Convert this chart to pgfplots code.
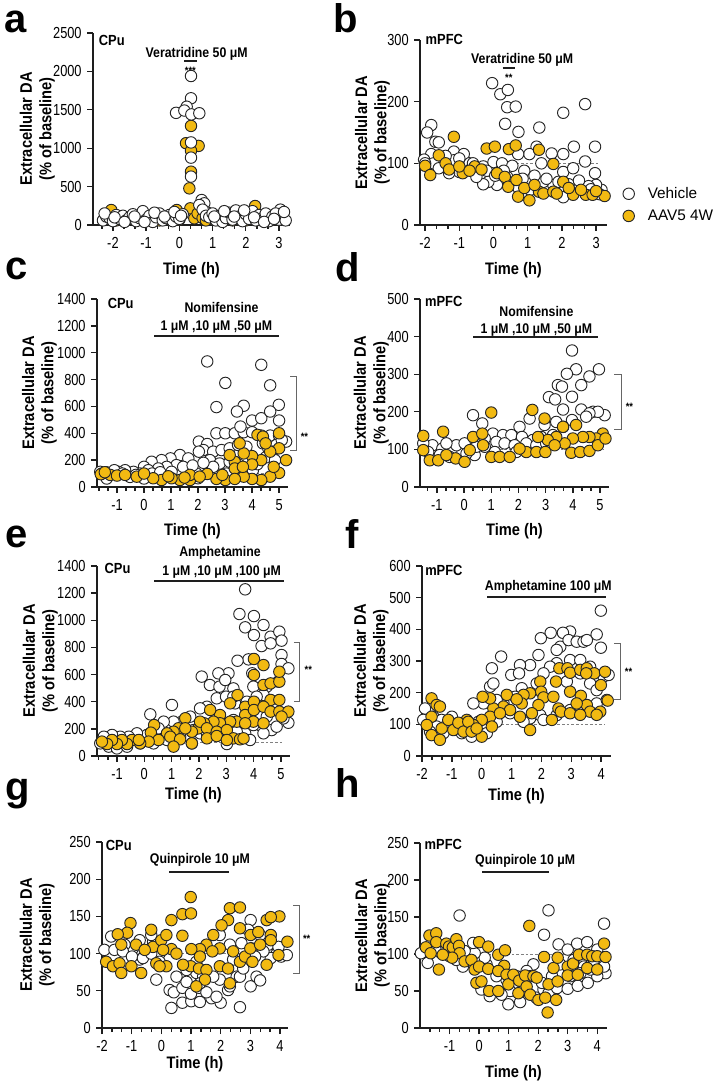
\documentclass[border=0pt]{standalone}
\usepackage{pgfplots}
\pgfplotsset{compat=1.18}
\usepackage{fontspec}
\setmainfont{Liberation Sans}[FakeStretch=0.88]
\newfontfamily\plainsans{Liberation Sans}
\newfontfamily\tickfam{Liberation Sans}[FakeStretch=0.8]
\definecolor{aavgold}{RGB}{242,186,18}
\definecolor{axcol}{RGB}{30,30,30}
\newcommand{\tickfont}{\tickfam\fontsize{12}{13}\selectfont}
\newcommand{\labfont}{\bfseries\fontsize{12.5}{14.5}\selectfont}
\newcommand{\annfont}{\bfseries\fontsize{10.5}{12}\selectfont}
\newcommand{\regfont}{\bfseries\fontsize{11}{12}\selectfont}
\newcommand{\starfont}{\bfseries\fontsize{8}{9}\selectfont}
\newcommand{\letfont}{\plainsans\bfseries\fontsize{30}{30}\selectfont}
\tikzset{
  drug/.style={line width=1.3pt, axcol},
  brack/.style={line width=0.6pt, gray!80!black},
}
\pgfplotsset{
  dapanel/.style={
    scale only axis, anchor=south west,
    axis x line*=bottom, axis y line*=left,
    axis line style={line width=1.1pt, axcol, -},
    every tick/.style={line width=1.0pt, axcol},
    tick align=outside,
    major tick length=4.5pt, minor tick length=3pt,
    ymin=0, clip=false,
    tick label style={font=\tickfont},
    /pgf/number format/assume math mode=true,
    /pgf/number format/1000 sep={},
    xticklabel style={yshift=-1.5pt},
    yticklabel style={xshift=-0.5pt},
  },
  veh/.style={only marks, mark=*, mark size=4.3pt, mark options={fill=white, draw=black!85, line width=0.7pt}},
  aav/.style={only marks, mark=*, mark size=4.3pt, mark options={fill=aavgold, draw=black!85, line width=0.7pt}},
  base/.style={gray, line width=0.6pt, dash pattern=on 2pt off 1.5pt, forget plot},
}
\newcommand{\axlabels}[2]{%
  \node[rotate=90, anchor=south, font=\labfont, align=center, inner sep=0pt] at (axis description cs:#1,0.5) {Extracellular DA\\(\% of baseline)};
  \node[anchor=north, font=\labfont, inner sep=0pt] at (axis description cs:0.5,#2) {Time (h)};
}
\begin{document}
\begin{tikzpicture}
\useasboundingbox (0,0) rectangle (535.5pt,814.5pt);

% ---------------- a ----------------
\begin{axis}[dapanel, at={(69.75pt,645.75pt)}, width=147.75pt, height=144pt,
  xmin=-2.6, xmax=3.33, ymax=2500, xtick={-2,...,3}, ytick={0,500,...,2500},
  minor xtick={-2.333,-1.667,-1.333,-0.667,-0.333,0.333,0.667,1.333,1.667,2.333,2.667}]
\addplot[aav] coordinates {(-2.05,195)(-2.2,80)(-1.9,60)(-1.7,100)(-1.5,90)(-1.2,70)(-0.9,110)(-0.6,60)(-0.3,90)(0.0,70)(-0.08,195)
 (0.35,1290)(0.2,1065)(0.58,1030)(0.35,968)(0.35,694)(0.3,477)(0.33,217)(0.45,87)
 (0.55,150)(0.7,90)(1.0,80)(1.3,130)(1.6,60)(1.9,100)(2.28,247)(2.5,90)(2.8,70)(3.1,100)(2.0,60)(1.1,110)(0.8,60)};
\addplot[veh] coordinates {(-2.3,60)(-2.2,110)(-2.1,90)(-2.0,50)(-1.9,130)(-1.8,80)(-1.7,120)(-1.6,60)(-1.5,100)(-1.4,140)(-1.3,50)(-1.2,90)(-1.1,180)(-1.0,70)(-0.9,120)(-0.8,40)(-0.7,100)(-0.6,150)(-0.5,60)(-0.4,90)(-0.3,130)(-0.2,50)(-0.1,110)(0.0,80)(0.1,140)
 (0.35,1940)(0.35,1650)(0.22,1540)(-0.1,1460)(0.15,1490)(0.36,1440)(0.6,1455)(0.35,1075)(0.35,877)(0.35,630)
 (0.67,325)(0.75,282)(0.6,260)(0.85,160)(0.7,200)(0.8,120)(0.9,100)(1.0,150)(1.1,60)(1.2,120)(1.3,40)(1.4,90)(1.5,160)(1.6,70)(1.7,190)(1.8,110)(1.9,50)(2.0,140)(2.1,80)(2.2,180)(2.3,60)(2.4,130)(2.5,90)(2.6,150)(2.7,50)(2.8,110)(3.04,200)(3.0,70)(3.1,120)(3.2,60)(2.9,150)
 (-2.25,150)(-1.95,100)(-1.65,40)(-1.35,110)(-1.05,40)(-0.75,160)(-0.45,110)(-0.15,170)(0.05,120)(1.05,110)(1.35,180)(1.65,110)(1.95,190)(2.25,100)(2.55,40)(2.85,80)(3.15,170)};
\draw[drug] (axis cs:0.14,2135) -- (axis cs:0.52,2135);
\node[font=\annfont] at (axis cs:0.52,2230) {Veratridine 50 μM};
\node[font=\starfont, anchor=north] at (axis cs:0.33,2120) {***};
\node[font=\regfont, anchor=west, inner sep=0pt] at (axis cs:-2.43,2400) {CPu};
\axlabels{-0.193}{-0.193}
\end{axis}

% ---------------- b ----------------
\begin{axis}[dapanel, at={(315pt,645.75pt)}, width=140.25pt, height=138.75pt,
  xmin=-2.15, xmax=3.32, ymax=300, xtick={-2,...,3}, ytick={0,100,200,300},
  minor xtick={-1.667,-1.333,-0.667,-0.333,0.333,0.667,1.333,1.667,2.333,2.667},
  legend style={draw=none, fill=none, at={(axis description cs:1.084,0.22)}, anchor=north west,
    font=\plainsans\fontsize{11.5}{13}\selectfont, row sep=3pt, inner sep=0pt,
    /tikz/every odd column/.append style={column sep=8pt}},
  legend cell align=left]
\addplot[base] coordinates {(-2.2,100)(3.1,100)};
\addplot[veh] coordinates {(-1.82,162)(-1.94,150)(-1.7,135)(-1.6,134)(-1.82,115)(-2.03,106)(-1.75,100)(-1.16,119)(-1.16,105)(-0.87,115)(-0.7,100)(-0.04,230)(0.2,212)(0.42,219)(0.4,191)(0.65,192)(0.34,164)(0.73,151)(1.34,158)(1.26,127)(2.04,182)(2.68,196)(2.35,127)(2.97,127)(1.7,116)(2.04,115)(1.05,115)(0.72,115)(1.4,100)(2.68,103)(2.97,84)(2.04,86)(2.33,92)(3.16,57)(3.0,65)(2.78,63)(2.7,51)(2.33,62)(2.04,45)(1.75,65)(1.46,70)(1.07,57)(0.73,60)(0.4,78)(0.1,65)(-0.15,70)(-0.3,66)(-0.5,78)(-0.7,89)(-1.0,86)(-1.3,84)(-1.6,92)(-2.0,100)(-1.4,112)(-1.0,108)(-0.6,100)(-0.3,95)(0.0,102)(0.25,100)(0.55,96)(0.9,88)(1.2,80)(1.55,75)(1.9,70)(2.2,66)(2.5,72)(2.85,58)(3.1,50)(-0.2,88)(0.05,80)(0.3,88)(0.85,75)};
\addplot[aav] coordinates {(-1.16,143)(-1.6,113)(-2.0,96)(-1.85,81)(-0.2,124)(0.04,127)(0.45,123)(0.65,129)(1.33,122)(1.75,99)(-0.9,84)(-0.55,95)(0.1,84)(0.33,78)(0.43,62)(0.67,73)(0.72,46)(1.05,40)(0.9,60)(1.33,54)(1.46,51)(1.75,54)(2.04,70)(2.33,49)(2.7,49)(2.9,49)(3.25,47)(2.56,57)(1.85,51)(-1.4,100)(-1.3,90)(-1.0,95)(-0.7,88)(-0.35,90)(1.2,65)(2.2,60)(3.0,55)};
\legend{Vehicle, AAV5 4W}
\draw[drug] (axis cs:0.27,255) -- (axis cs:0.64,255);
\node[font=\annfont] at (axis cs:0.84,268) {Veratridine 50 μM};
\node[font=\starfont, anchor=north] at (axis cs:0.45,253) {**};
\node[font=\regfont, anchor=west, inner sep=0pt] at (axis cs:-1.99,301) {mPFC};
\axlabels{-0.16}{-0.2}
\end{axis}

% ---------------- c ----------------
\begin{axis}[dapanel, at={(72.75pt,449.25pt)}, width=143.25pt, height=141pt,
  xmin=-1.74, xmax=5.33, ymax=1400, xtick={-1,...,5}, ytick={0,200,...,1400},
  minor xtick={-1.667,-1.333,-0.667,-0.333,0.333,0.667,1.333,1.667,2.333,2.667,3.333,3.667,4.333,4.667}]
\addplot[base] coordinates {(-1.7,100)(5.1,100)};
\addplot[veh] coordinates {(2.34,935)(4.34,910)(3.01,775)(4.67,757)(2.68,595)(3.69,605)(3.44,562)(4.99,612)(4.0,495)(4.34,512)(4.67,562)(5.0,495)(5.26,338)
(2.03,338)(2.34,320)(2.68,400)(3.01,400)(3.36,400)(3.69,408)(4.0,408)(4.34,383)(4.67,383)(5.0,383)(3.57,450)(2.2,275)(2.56,263)(2.87,275)(3.17,288)(3.48,313)(3.79,300)(4.4,325)(4.6,288)(4.9,313)(4.77,263)
(2.03,263)(2.44,200)(2.8,175)(3.17,188)(3.54,163)(3.85,138)(2.06,125)(2.56,150)(3.05,100)(4.03,125)
(1.33,238)(0.98,213)(0.65,200)(0.28,188)(0.0,150)(1.64,213)(1.2,163)(0.84,150)(0.53,138)(0.16,125)(-0.15,100)(-0.39,113)(-0.7,125)(-0.95,113)(-1.19,100)(-1.5,95)(-1.62,113)(-1.38,63)(-0.52,75)(0.0,63)(1.57,125)(1.94,100)(2.0,65)(1.33,88)(1.02,113)
(-1.4,110)(-1.1,125)(-0.8,100)(-0.3,90)(0.3,100)(0.6,110)(1.45,150)(1.8,160)(2.2,180)(4.2,170)(4.5,220)(4.85,200)(5.1,350)};
\addplot[aav] coordinates {(5.0,400)(5.0,288)(4.67,263)(4.34,200)(4.0,230)(4.0,168)(3.69,250)(3.36,188)(3.36,138)(5.26,200)(5.0,105)(4.67,77)(4.34,52)(4.0,60)(3.69,77)(3.01,52)(2.68,60)(2.34,97)(3.36,60)(3.17,238)(3.54,325)(4.2,388)(4.4,375)(4.5,325)(3.66,150)
(1.7,52)(1.33,52)(1.02,65)(0.65,52)(0.34,65)(-0.27,77)(-1.25,90)(-1.56,100)(1.7,90)(2.06,77)(-1.6,95)(-1.0,85)(-0.7,90)(0.0,100)(-1.45,110)(0.9,80)(1.5,70)(2.9,90)(4.8,150)};
\draw[drug] (axis cs:0.37,1127) -- (axis cs:4.99,1127);
\node[font=\annfont] at (axis cs:2.87,1335) {Nomifensine};
\node[font=\annfont] at (axis cs:2.68,1190) {1 μM ,10 μM ,50 μM};
\draw[brack] (axis cs:5.41,821) -- (axis cs:5.63,821) -- (axis cs:5.63,276) -- (axis cs:5.41,276);
\node[font=\starfont] at (axis cs:5.94,375) {**};
\node[font=\regfont, anchor=west, inner sep=0pt] at (axis cs:-1.35,1368) {CPu};
\axlabels{-0.209}{-0.191}
\end{axis}

% ---------------- d ----------------
\begin{axis}[dapanel, at={(315pt,449.25pt)}, width=141.75pt, height=141pt,
  xmin=-1.62, xmax=5.33, ymax=500, xtick={-1,...,5}, ytick={0,100,...,500},
  minor xtick={-1.333,-0.667,-0.333,0.333,0.667,1.333,1.667,2.333,2.667,3.333,3.667,4.333,4.667}]
\addplot[base] coordinates {(-1.6,100)(5.1,100)};
\addplot[veh] coordinates {(3.97,363)(4.12,313)(3.78,301)(4.96,313)(4.61,294)(4.31,271)(3.45,271)(3.6,267)(3.12,239)(3.35,233)(3.97,240)(3.64,206)(4.31,206)(4.74,200)(5.17,191)(4.92,200)(4.61,196)(4.49,187)(3.97,178)(2.96,165)(2.41,182)(2.04,160)(0.33,191)(0.67,169)(1.06,142)(1.43,138)(1.74,138)(2.13,133)(2.53,125)(2.84,133)(3.27,138)(3.64,160)(3.39,173)(0.76,129)(1.19,120)(1.49,116)(1.86,111)(2.29,116)(2.66,111)(3.02,116)(-1.16,111)(-1.5,116)(-0.8,102)(-0.47,93)(-0.28,111)(0.02,116)(0.39,85)(0.09,89)(-0.53,80)(-0.89,85)(-1.32,93)(-0.65,116)(1.13,93)(1.92,93)(0.76,107)(0.45,107)};
\addplot[aav] coordinates {(1.0,198)(2.51,205)(2.96,182)(-0.77,147)(-1.5,136)(0.33,133)(0.67,142)(4.12,165)(5.1,142)(4.86,129)(4.61,133)(4.37,133)(4.0,129)(3.7,116)(3.39,133)(3.08,125)(2.72,133)(-1.5,98)(-1.26,71)(-0.95,71)(-0.31,76)(0.02,67)(0.21,98)(1.0,80)(1.31,80)(1.68,80)(2.29,93)(2.66,93)(2.99,93)(3.94,91)(4.27,93)(4.61,96)(4.92,111)(5.2,129)(3.64,160)(-0.65,85)(0.7,111)(2.04,102)(3.33,111)};
\draw[drug] (axis cs:0.33,398) -- (axis cs:4.92,398);
\node[font=\annfont] at (axis cs:2.66,467) {Nomifensine};
\node[font=\annfont] at (axis cs:2.66,418) {1 μM ,10 μM ,50 μM};
\draw[brack] (axis cs:5.53,300) -- (axis cs:5.78,300) -- (axis cs:5.78,153) -- (axis cs:5.53,153);
\node[font=\starfont] at (axis cs:6.08,214) {**};
\node[font=\regfont, anchor=west, inner sep=0pt] at (axis cs:-1.44,494) {mPFC};
\axlabels{-0.164}{-0.191}
\end{axis}

% ---------------- e ----------------
\begin{axis}[dapanel, at={(72.75pt,247.5pt)}, width=144.75pt, height=142.5pt,
  xmin=-1.73, xmax=5.33, ymax=1400, xtick={-1,...,5}, ytick={0,200,...,1400},
  minor xtick={-1.667,-1.333,-0.667,-0.333,0.333,0.667,1.333,1.667,2.333,2.667,3.333,3.667,4.333,4.667}]
\addplot[base] coordinates {(-1.7,100)(5.1,100)};
\addplot[veh] coordinates {(3.69,1228)(3.48,1046)(4.01,1031)(3.69,948)(4.01,891)(4.36,965)(4.62,879)(4.94,916)(5.02,850)(4.29,810)(4.62,830)(3.81,712)(5.02,744)(3.41,702)(5.02,678)(5.27,646)(3.95,609)(3.08,609)(2.1,585)(2.4,523)(2.75,511)(3.26,498)(2.65,425)(2.99,437)(3.32,388)(3.99,511)(4.48,511)(4.9,548)(4.36,450)(3.75,400)(4.11,437)(4.72,351)(5.02,314)(5.27,245)(4.66,191)(4.23,228)(3.87,253)(3.69,167)(3.02,88)(2.77,253)(2.29,363)(2.04,351)(1.68,290)(1.37,253)(1.07,253)(1.01,376)(0.71,253)(0.22,307)(0.52,204)(0.1,155)(-0.27,167)(-0.57,142)(-0.88,142)(-1.18,155)(-1.48,142)(1.74,93)(2.04,167)(2.53,216)(3.26,265)(3.99,228)(4.48,290)(-1.61,93)(-1.3,69)(-1.0,56)(-0.63,69)(-0.15,93)(0.34,93)(0.83,118)(1.31,142)(1.8,191)(2.29,167)(2.9,155)(3.38,179)(3.87,118)(4.36,167)(4.84,216)(5.09,277)(2.71,609)(2.96,560)(3.26,437)};
\addplot[aav] coordinates {(4.01,715)(4.36,670)(4.01,597)(4.36,523)(4.62,535)(4.94,548)(4.94,621)(4.62,413)(4.94,413)(3.41,449)(3.14,388)(3.69,363)(4.01,400)(3.69,302)(4.01,339)(4.36,363)(4.62,327)(4.94,327)(5.27,327)(5.02,290)(3.38,253)(3.14,253)(2.77,302)(2.41,339)(2.77,241)(2.53,253)(2.19,241)(1.98,204)(1.74,179)(1.5,278)(1.25,204)(1.5,204)(1.07,179)(0.83,167)(0.36,228)(0.24,172)(0.52,118)(0.16,106)(0.95,142)(1.31,123)(1.74,93)(1.07,69)(2.04,253)(2.29,204)(2.65,179)(3.02,191)(3.26,130)(3.5,123)(3.63,130)(3.99,253)(4.36,241)(3.69,241)(2.29,130)(2.65,147)(3.02,118)(-0.15,93)(-0.45,118)(-0.63,88)(-0.82,118)(-1.0,88)(-1.18,118)(-1.36,88)(-1.55,106)(-0.2,118)};
\draw[drug] (axis cs:0.36,1289) -- (axis cs:5.11,1289);
\node[font=\annfont] at (axis cs:2.77,1493) {Amphetamine};
\node[font=\annfont] at (axis cs:2.83,1355) {1 μM ,10 μM ,100 μM};
\draw[brack] (axis cs:5.47,835) -- (axis cs:5.69,835) -- (axis cs:5.69,400) -- (axis cs:5.47,400);
\node[font=\starfont] at (axis cs:6.0,634) {**};
\node[font=\regfont, anchor=west, inner sep=0pt] at (axis cs:-1.46,1383) {CPu};
\axlabels{-0.202}{-0.163}
\end{axis}

% ---------------- f ----------------
\begin{axis}[dapanel, at={(316.5pt,247.5pt)}, width=141.75pt, height=142.5pt,
  xmin=-2, xmax=4.33, ymax=600, xtick={-2,...,4}, ytick={0,100,...,600},
  minor xtick={-1.667,-1.333,-0.667,-0.333,0.333,0.667,1.333,1.667,2.333,2.667,3.333,3.667}]
\addplot[base] coordinates {(-2,100)(4.1,100)};
\addplot[veh] coordinates {(3.99,459)(3.85,384)(3.99,342)(2.96,393)(2.72,389)(2.31,389)(1.98,372)(2.63,345)(2.91,366)(3.18,361)(3.41,361)(3.52,366)(1.9,319)(1.62,287)(1.28,287)(0.99,256)(0.65,314)(0.34,277)(0.28,219)(0.39,229)(1.25,261)(1.34,214)(2.51,335)(2.96,303)(3.3,303)(3.63,282)(4.08,251)(4.25,256)(2.51,293)(2.29,282)(2.07,261)(1.84,229)(2.85,235)(3.3,261)(3.63,229)(3.85,208)(1.96,129)(1.62,119)(1.12,187)(0.73,166)(0.95,135)(0.5,177)(0.06,166)(-0.28,166)(-1.9,150)(-1.62,124)(-1.34,114)(-1.0,124)(-0.67,72)(-0.34,61)(0.17,72)(-0.39,98)(-0.11,108)(-0.78,93)(-1.17,98)(-1.51,93)(-1.96,114)(-1.73,77)(-1.28,72)(0.5,108)(1.4,108)(2.07,114)(2.51,129)(2.96,145)(3.41,156)(3.85,166)(4.19,177)};
\addplot[aav] coordinates {(2.6,277)(2.87,277)(2.96,263)(3.3,272)(3.52,277)(3.77,261)(4.13,266)(3.99,224)(3.5,261)(1.96,235)(2.49,235)(2.96,203)(3.32,190)(3.52,161)(3.63,140)(3.18,166)(2.57,150)(2.65,140)(2.96,135)(3.3,130)(3.97,140)(4.22,175)(3.85,130)(1.99,203)(2.07,185)(2.4,187)(2.35,114)(1.62,198)(1.4,193)(1.34,166)(0.84,193)(1.17,179)(0.73,156)(0.39,150)(0.28,182)(0.03,187)(0.28,124)(0,114)(0,61)(-0.28,98)(-0.5,114)(1.62,82)(1.9,161)(1.68,135)(1.28,124)(0.95,145)(0.61,135)(0.34,93)(-1.68,182)(-1.68,124)(-1.51,161)(-1.4,156)(-1.84,98)(-1.68,66)(-1.4,51)(-1.34,87)(-1.12,114)(-0.95,82)(-0.78,105)(-0.61,77)(-0.45,108)(-0.34,77)(-0.17,87)};
\draw[drug] (axis cs:0.19,501) -- (axis cs:4.17,501);
\node[font=\annfont] at (axis cs:2.23,535) {Amphetamine 100 μM};
\draw[brack] (axis cs:4.44,356) -- (axis cs:4.64,356) -- (axis cs:4.64,179) -- (axis cs:4.44,179);
\node[font=\starfont] at (axis cs:4.92,266) {**};
\node[font=\regfont, anchor=west, inner sep=0pt] at (axis cs:-1.9,585) {mPFC};
\axlabels{-0.175}{-0.168}
\end{axis}

% ---------------- g ----------------
\begin{axis}[dapanel, at={(76.5pt,43.5pt)}, width=139.5pt, height=139.5pt,
  xmin=-2, xmax=4.27, ymax=250, xtick={-2,...,4}, ytick={0,50,...,250},
  minor xtick={-1.667,-1.333,-0.667,-0.333,0.333,0.667,1.333,1.667,2.333,2.667,3.333,3.667}]
\addplot[base] coordinates {(-2,100)(4.1,100)};
\addplot[veh] coordinates {(0.34,27)(0.71,34)(1.01,36)(1.3,35)(1.69,40)(2.0,34)(2.65,28)(0.28,51)(0.42,48)(0.71,54)(1.0,46)(1.27,54)(1.52,48)(1.86,42)(2.25,51)(3.01,56)(3.21,69)(3.33,64)(0.51,69)(0.85,62)(1.18,74)(1.52,69)(1.97,65)(2.31,56)(2.54,69)(-0.17,65)(-0.73,92)(-0.06,100)(-0.28,116)(-0.34,125)(-0.73,118)(-0.96,107)(-1.24,112)(-1.69,123)(-1.92,105)(-1.58,105)(-1.3,103)(-0.99,96)(-0.62,94)(-0.34,100)(-0.06,89)(2.65,69)(2.76,80)(2.42,92)(1.97,125)(2.31,112)(3.01,145)(2.93,132)(2.7,114)(3.04,107)(3.33,125)(3.61,112)(3.89,100)(3.69,94)(4.04,96)(4.23,98)(3.95,109)(3.44,103)(3.16,96)(1.18,89)(0.85,78)(1.41,69)(1.75,69)(1.3,60)};
\addplot[aav] coordinates {(0.99,176)(0.71,153)(0.34,145)(1.0,154)(0.71,124)(0.34,106)(2.31,161)(2.65,162)(2.65,134)(2.25,145)(2.03,138)(1.75,125)(1.52,112)(1.3,106)(1.01,106)(1.97,107)(1.72,103)(1.3,96)(0.99,83)(1.27,80)(0.73,85)(0.51,100)(0.17,83)(1.97,83)(1.52,78)(2.25,80)(2.42,103)(2.65,89)(2.82,96)(3.0,107)(3.07,89)(3.01,125)(3.27,129)(3.55,145)(3.98,150)(3.69,149)(3.69,125)(3.33,112)(3.69,118)(3.55,85)(4.25,116)(3.95,98)
(-1.04,141)(-1.15,128)(-1.47,126)(-1.35,112)(-0.85,112)(-0.34,132)(-0.28,109)(0,118)(-0.17,87)(-1.86,89)(-1.63,83)(-1.41,87)(-1.35,74)(-1.01,83)(-0.68,74)(-0.56,105)(-0.06,83)(0.06,105)(0.17,125)(1.47,65)(1.18,56)(2.31,60)};
\draw[drug] (axis cs:0.26,210) -- (axis cs:2.29,210);
\node[font=\annfont] at (axis cs:1.3,226) {Quinpirole 10 μM};
\draw[brack] (axis cs:4.45,165) -- (axis cs:4.66,165) -- (axis cs:4.66,74) -- (axis cs:4.45,74);
\node[font=\starfont] at (axis cs:4.9,120) {**};
\node[font=\regfont, anchor=west, inner sep=0pt] at (axis cs:-1.88,245) {CPu};
\axlabels{-0.253}{-0.15}
\end{axis}

% ---------------- h ----------------
\begin{axis}[dapanel, at={(315pt,43.5pt)}, width=140.25pt, height=138.75pt,
  xmin=-2, xmax=4.33, ymax=250, xtick={-1,...,4}, ytick={0,50,...,250},
  minor xtick={-1.667,-1.333,-0.667,-0.333,0.333,0.667,1.333,1.667,2.333,2.667,3.333,3.667}]
\addplot[base] coordinates {(-1.9,100)(4.2,100)};
\addplot[veh] coordinates {(-0.66,152)(2.35,159)(2.2,126)(4.23,141)(0.99,32)(1.39,35)(1.93,41)(1.44,50)(1.05,50)(0.76,45)(0.36,43)(0.08,52)(2.18,52)(2.35,47)(2.64,54)(3.0,53)(3.34,57)(3.68,61)(2.69,113)(3.0,106)(3.32,114)(3.66,116)(4.0,106)(4.28,74)(4.0,70)(3.77,79)(1.84,86)(1.61,77)(1.27,70)(0.93,65)(0.59,70)(0.25,86)(0.19,95)(-0.15,101)(-0.26,88)(-0.55,83)(-0.77,92)(-1.0,97)(-1.28,101)(-1.74,88)(-1.97,101)(-1.45,108)(-1.11,110)(-0.77,113)(-0.49,104)(-0.2,115)(2.75,86)(3.2,92)(3.55,83)(3.89,92)(4.23,83)(2.47,70)(2.13,61)(1.73,70)(3.09,70)(3.43,74)};
\addplot[aav] coordinates {(-1.8,109)(-1.68,125)(-1.45,128)(-1.45,116)(-1.64,101)(-1.36,79)(-1.11,114)(-1.02,110)(-0.89,109)(-0.77,120)(-0.68,111)(-0.66,101)(-0.91,95)(-1.23,99)(-0.49,90)(-0.26,92)(-0.15,79)(0,116)(0,83)(-0.09,61)(0.08,63)(0.31,110)(0.31,80)(0.34,50)(0.65,50)(0.65,99)(0.88,105)(0.85,84)(0.65,77)(0.93,72)(0.99,59)(1.16,72)(1.36,64)(1.33,47)(1.56,71)(1.61,56)(1.7,138)(1.73,45)(1.84,70)(1.95,68)(2.01,38)(2.2,96)(2.24,41)(2.35,59)(2.32,21)(2.52,81)(2.61,38)(2.66,63)(2.66,95)(3.0,83)(3.0,71)(3.18,87)(3.34,72)(3.38,99)(3.66,99)(3.66,81)(3.83,97)(4.0,79)(4.0,97)(4.23,114)(4.28,96)};
\draw[drug] (axis cs:0.11,211) -- (axis cs:2.35,211);
\node[font=\annfont] at (axis cs:1.56,226) {Quinpirole 10 μM};
\node[font=\regfont, anchor=west, inner sep=0pt] at (axis cs:-1.85,248) {mPFC};
\axlabels{-0.16}{-0.2}
\end{axis}

% panel letters
\node[font=\letfont, anchor=base west, inner sep=0pt] at (3.5pt,789.75pt) {a};
\node[font=\letfont, anchor=base west, inner sep=0pt] at (250pt,789.75pt) {b};
\node[font=\letfont, anchor=base west, inner sep=0pt] at (4pt,604.5pt) {c};
\node[font=\letfont, anchor=base west, inner sep=0pt] at (251.5pt,603pt) {d};
\node[font=\letfont, anchor=base west, inner sep=0pt] at (4pt,403.5pt) {e};
\node[font=\letfont, anchor=base west, inner sep=0pt] at (259pt,402.75pt) {f};
\node[font=\letfont, anchor=base west, inner sep=0pt] at (4pt,213.75pt) {g};
\node[font=\letfont, anchor=base west, inner sep=0pt] at (251.5pt,216pt) {h};
\end{tikzpicture}
\end{document}
